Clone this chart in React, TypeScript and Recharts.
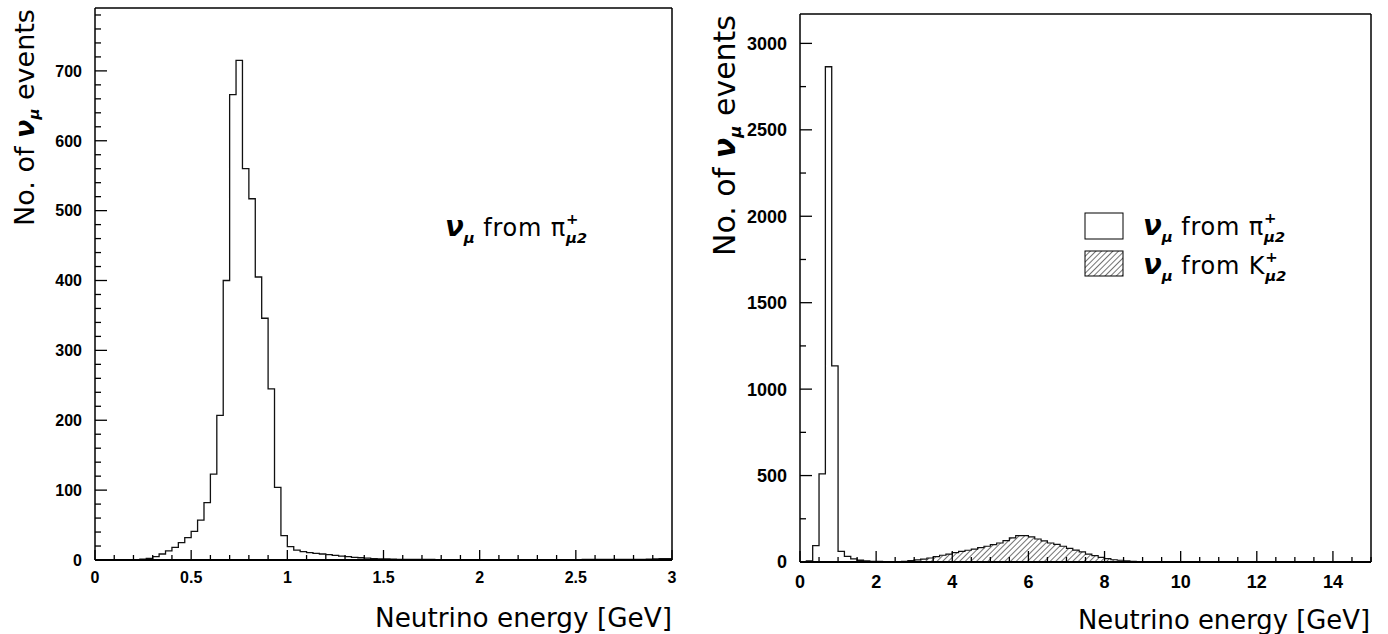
import React from 'react';
import { ComposedChart, Area, XAxis, YAxis } from 'recharts';

// pi+ -> mu nu spectrum, 90 bins of 1/30 GeV from 0 to 3 GeV
const LEFT_COUNTS = [
  0, 0, 0, 0, 0, 0, 0.5, 1.2, 2.4, 4.8,
  8.6, 13, 18, 25, 32, 41, 57, 82, 123, 207,
  400, 666, 715, 560, 517, 405, 346, 245, 104, 35,
  19, 14, 12, 10.5, 9.6, 8.6, 7.6, 6.6, 5.6, 4.7,
  3.9, 3.2, 2.6, 2.1, 1.7, 1.4, 1.2, 1.0, 0.9, 0.8,
  0.8, 0.7, 0.7, 0.6, 0.6, 0.6, 0.5, 0.5, 0.5, 0.5,
  0.5, 0.5, 0.5, 0.5, 0.5, 0.5, 0.5, 0.5, 0.5, 0.5,
  0.5, 0.5, 0.6, 0.6, 0.6, 0.6, 0.7, 0.7, 0.7, 0.8,
  0.8, 0.8, 0.9, 0.9, 1.0, 1.0, 1.2, 1.5, 1.8, 2.0,
];

// right panel, 90 bins of 1/6 GeV from 0 to 15 GeV
const RIGHT_PI_COUNTS = [
  1, 6, 95, 510, 2865, 1135, 62, 33, 18, 10,
  6, 4, 3, 2, 2, 1, 1, 1, 0.8, 0.8,
  0.6, 0.6, 0.5, 0.5, 0.5, 0.5, 0.5, 0.5, 0.5, 0.5,
  0.5, 0.5, 0.5, 0.5, 0.5, 0.5, 0.5, 0.5, 0.5, 0.5,
  0.5, 0.5, 0.5, 0.5, 0.5, 0.5, 0.5, 0.5, 0.5, 0.5,
  0.5, 0.5, 0.5, 0.5, 0.5, 0.5, 0.5, 0.5, 0.5, 0.5,
  0.5, 0.5, 0.5, 0.5, 0.5, 0.5, 0.5, 0.5, 0.5, 0.5,
  0.5, 0.5, 0.5, 0.5, 0.5, 0.5, 0.5, 0.5, 0.5, 0.5,
  0.5, 0.5, 0.5, 0.5, 0.5, 0.5, 0.5, 0.5, 0.5, 0.5,
];

const RIGHT_K_COUNTS = [
  0, 0, 0, 0, 0, 0, 0, 0, 0, 0,
  0, 0, 0, 0, 1, 2, 4, 8, 12, 17,
  23, 31, 39, 46, 54, 62, 68, 75, 83, 91,
  100, 110, 124, 139, 152, 152, 145, 133, 122, 110,
  102, 91, 79, 69, 58, 46, 37, 27, 19, 13,
  10, 6, 4, 3, 2, 2, 1.5, 1, 0.8, 0.8,
  0.6, 0.5, 0.4, 0.3, 0.3, 0.2, 0, 0, 0, 0,
  0, 0, 0, 0, 0, 0, 0, 0, 0, 0,
  0, 0, 0, 0, 0, 0, 0, 0, 0, 0,
];

const LEFT_X_MAJOR = [0, 0.5, 1, 1.5, 2, 2.5, 3];
const LEFT_X_LABELS = ['0', '0.5', '1', '1.5', '2', '2.5', '3'];
const LEFT_Y_MAJOR = [0, 100, 200, 300, 400, 500, 600, 700];
const RIGHT_X_MAJOR = [0, 2, 4, 6, 8, 10, 12, 14];
const RIGHT_Y_MAJOR = [0, 500, 1000, 1500, 2000, 2500, 3000];

const LEFT_X_TICKS = Array.from({ length: 31 }, (_, i) => i / 10);
const LEFT_Y_TICKS = Array.from({ length: 40 }, (_, i) => i * 20);
const RIGHT_X_TICKS = Array.from({ length: 31 }, (_, i) => i / 2);
const RIGHT_Y_TICKS = Array.from({ length: 13 }, (_, i) => i * 250);

const FONT = '"DejaVu Sans", Verdana, sans-serif';
const TICK_FONT = '"Liberation Sans", Arial, sans-serif';

function histRows(counts: number[], width: number) {
  const rows = counts.map((c, i) => ({ x: i * width, v: c }));
  rows.push({ x: counts.length * width, v: counts[counts.length - 1] });
  return rows;
}

const leftData = histRows(LEFT_COUNTS, 1 / 30);
const rightData = RIGHT_PI_COUNTS.map((c, i) => ({ x: i / 6, pi: c, k: RIGHT_K_COUNTS[i] }));
rightData.push({ x: 15, pi: RIGHT_PI_COUNTS[89], k: RIGHT_K_COUNTS[89] });

const isIn = (v: number, list: number[]) => list.some((m) => Math.abs(m - v) < 1e-6);

function makeYTick(major: number[], fontSize: number) {
  return (props: any) => {
    const { x, y, payload } = props;
    const big = isIn(payload.value, major);
    return (
      <g>
        <line x1={x} x2={x + (big ? 12 : 6)} y1={y} y2={y} stroke="#000" strokeWidth={1.3} />
        {big && (
          <text x={x - 13} y={y} dy="0.36em" textAnchor="end" fontFamily={TICK_FONT} fontWeight="bold" fontSize={fontSize} fill="#000">
            {payload.value}
          </text>
        )}
      </g>
    );
  };
}

function makeXTick(major: number[], labels: string[] | null, fontSize: number, longLen: number, gap: number) {
  return (props: any) => {
    const { x, y, payload } = props;
    const idx = major.findIndex((m) => Math.abs(m - payload.value) < 1e-6);
    const big = idx >= 0;
    return (
      <g>
        <line x1={x} x2={x} y1={y} y2={y - (big ? longLen : 5)} stroke="#000" strokeWidth={1.3} />
        {big && (
          <text x={x} y={y + gap} textAnchor="middle" fontFamily={TICK_FONT} fontWeight="bold" fontSize={fontSize} fill="#000">
            {labels ? labels[idx] : payload.value}
          </text>
        )}
      </g>
    );
  };
}

function NuLabel({ x, y, parent, size }: { x: number; y: number; parent: string; size: number }) {
  const s = size * 0.62;
  return (
    <text x={x} y={y} fontFamily={FONT} fontSize={size} fill="#000">
      <tspan fontStyle="italic" fontWeight="bold" fontSize={size * 1.15}>ν</tspan>
      <tspan fontStyle="italic" fontWeight="bold" fontSize={s} dy={size * 0.3}>μ</tspan>
      <tspan dy={-size * 0.3} letterSpacing={0.8}>{' from ' + parent}</tspan>
      <tspan fontWeight="bold" fontSize={s} dy={-size * 0.5}>+</tspan>
      <tspan fontStyle="italic" fontWeight="bold" fontSize={s} dx={-s * 0.84} dy={size * 0.8}>μ2</tspan>
    </text>
  );
}

function YTitle({ x, y, size }: { x: number; y: number; size: number }) {
  return (
    <text transform={`translate(${x},${y}) rotate(-90)`} fontFamily={FONT} fontSize={size} fill="#000">
      {'No. of '}
      <tspan fontStyle="italic" fontWeight="bold">ν</tspan>
      <tspan fontStyle="italic" fontWeight="bold" fontSize={size * 0.55} dy={size * 0.2}>μ</tspan>
      <tspan dy={-size * 0.2}>{' events'}</tspan>
    </text>
  );
}

const frame = { stroke: '#000', strokeWidth: 1.5 };

export default function App() {
  return (
    <div style={{ position: 'absolute', left: 0, top: 0, width: 1388, height: 634, background: '#fff' }}>
      <div style={{ position: 'absolute', left: 0, top: 0 }}>
        <ComposedChart width={700} height={634} data={leftData} margin={{ top: 7, right: 27, bottom: 44, left: 55 }}>
          <XAxis
            dataKey="x"
            type="number"
            domain={[0, 3]}
            ticks={LEFT_X_TICKS}
            interval={0}
            height={30}
            tickSize={0}
            tickMargin={0}
            tickLine={false}
            axisLine={{ stroke: '#000', strokeWidth: 2 }}
            tick={makeXTick(LEFT_X_MAJOR, LEFT_X_LABELS, 16, 10, 23)}
          />
          <XAxis xAxisId="top" orientation="top" type="number" domain={[0, 3]} height={1} tick={false} tickLine={false} axisLine={frame} />
          <YAxis
            type="number"
            domain={[0, 790]}
            ticks={LEFT_Y_TICKS}
            interval={0}
            width={40}
            tickSize={0}
            tickMargin={0}
            tickLine={false}
            axisLine={frame}
            tick={makeYTick(LEFT_Y_MAJOR, 16)}
          />
          <YAxis yAxisId="right" orientation="right" domain={[0, 1]} width={1} tick={false} tickLine={false} axisLine={frame} />
          <Area type="stepAfter" dataKey="v" stroke="#111" strokeWidth={1.3} fill="none" dot={false} isAnimationActive={false} />
        </ComposedChart>
      </div>
      <div style={{ position: 'absolute', left: 700, top: 0 }}>
        <ComposedChart width={688} height={634} data={rightData} margin={{ top: 13, right: 16, bottom: 42, left: 60 }}>
          <defs>
            <pattern id="hatch" width="4" height="4" patternUnits="userSpaceOnUse" patternTransform="rotate(45)">
              <line x1="0" y1="0" x2="0" y2="4" stroke="#000" strokeWidth={1.1} />
            </pattern>
          </defs>
          <XAxis
            dataKey="x"
            type="number"
            domain={[0, 15]}
            ticks={RIGHT_X_TICKS}
            interval={0}
            height={30}
            tickSize={0}
            tickMargin={0}
            tickLine={false}
            axisLine={{ stroke: '#000', strokeWidth: 2 }}
            tick={makeXTick(RIGHT_X_MAJOR, null, 18, 11, 26)}
          />
          <XAxis xAxisId="top" orientation="top" type="number" domain={[0, 15]} height={1} tick={false} tickLine={false} axisLine={frame} />
          <YAxis
            type="number"
            domain={[0, 3170]}
            ticks={RIGHT_Y_TICKS}
            interval={0}
            width={40}
            tickSize={0}
            tickMargin={0}
            tickLine={false}
            axisLine={frame}
            tick={makeYTick(RIGHT_Y_MAJOR, 18)}
          />
          <YAxis yAxisId="right" orientation="right" domain={[0, 1]} width={1} tick={false} tickLine={false} axisLine={frame} />
          <Area type="stepAfter" dataKey="k" stroke="#111" strokeWidth={1.2} fill="url(#hatch)" fillOpacity={1} dot={false} isAnimationActive={false} />
          <Area type="stepAfter" dataKey="pi" stroke="#111" strokeWidth={1.3} fill="none" dot={false} isAnimationActive={false} />
        </ComposedChart>
      </div>
      <svg width={1388} height={634} style={{ position: 'absolute', left: 0, top: 0, pointerEvents: 'none' }}>
        <YTitle x={34} y={226} size={27} />
        <YTitle x={735} y={256} size={30} />
        <text x={375} y={627} fontFamily={FONT} fontSize={26} textLength={297} lengthAdjust="spacingAndGlyphs" fill="#000">
          Neutrino energy [GeV]
        </text>
        <text x={1078} y={629} fontFamily={FONT} fontSize={26} textLength={292} lengthAdjust="spacingAndGlyphs" fill="#000">
          Neutrino energy [GeV]
        </text>
        <NuLabel x={445} y={236} parent="π" size={24} />
        <rect x={1085} y={213} width={38} height={26} fill="#fff" stroke="#000" strokeWidth={1} />
        <rect x={1085} y={251} width={38} height={25} fill="url(#hatch)" stroke="#000" strokeWidth={1} />
        <NuLabel x={1143} y={235} parent="π" size={24} />
        <NuLabel x={1143} y={274} parent="K" size={24} />
      </svg>
    </div>
  );
}
